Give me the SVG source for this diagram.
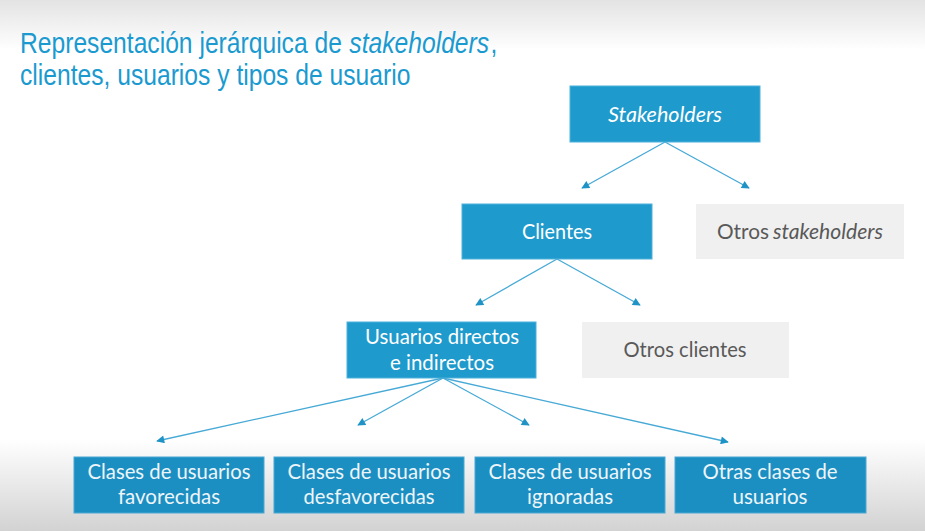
<svg xmlns="http://www.w3.org/2000/svg" width="925" height="531" viewBox="0 0 925 531">
<defs>
<linearGradient id="topg" x1="0" y1="0" x2="0" y2="1">
<stop offset="0" stop-color="#e3e3e3"/>
<stop offset="1" stop-color="#ffffff"/>
</linearGradient>
<linearGradient id="botg" x1="0" y1="0" x2="0" y2="1">
<stop offset="0" stop-color="#ffffff"/>
<stop offset="1" stop-color="#d2d2d2"/>
</linearGradient>
<marker id="ah" viewBox="0 0 10 10" refX="9" refY="5" markerWidth="9" markerHeight="8" markerUnits="userSpaceOnUse" orient="auto">
<path d="M0,0 L10,5 L0,10 z" fill="#1f93c6"/>
</marker>
<style>
.blue{fill:#1e9acc;stroke:#4fb1dc;stroke-width:1}
.blueb{fill:#1b8fc2;stroke:#4aa8d3;stroke-width:1}
.gray{fill:#f0f0f0}
.t{font-family:Lato,"Open Sans",sans-serif;font-size:21px;text-anchor:middle}
.w{fill:#ffffff}
.wb{fill:#eef5f9}
.g{fill:#595959}
.title{font-family:"Liberation Sans",Arial,sans-serif;font-size:29px;fill:#1b9ad0}
.con{stroke:#46a9d6;stroke-width:1.3;fill:none;marker-end:url(#ah)}
</style>
</defs>
<rect width="925" height="531" fill="#ffffff"/>
<rect width="925" height="50" fill="url(#topg)"/>
<rect y="440" width="925" height="91" fill="url(#botg)"/>

<g id="title" transform="scale(0.85,1)">
<text class="title" x="23.5" y="53">Representación jerárquica de</text>
<text class="title" x="411" y="53" font-style="italic">stakeholders</text>
<text class="title" x="577" y="53">,</text>
<text class="title" x="23.5" y="85">clientes, usuarios y tipos de usuario</text>
</g>

<g id="connectors">
<line class="con" x1="665" y1="142" x2="582" y2="188"/>
<line class="con" x1="665" y1="142" x2="749" y2="188"/>
<line class="con" x1="557" y1="259" x2="476" y2="305"/>
<line class="con" x1="557" y1="259" x2="640" y2="305"/>
<line class="con" x1="443" y1="378" x2="157" y2="441"/>
<line class="con" x1="443" y1="378" x2="358" y2="425"/>
<line class="con" x1="443" y1="378" x2="529" y2="425"/>
<line class="con" x1="443" y1="378" x2="728" y2="442"/>
</g>

<g id="stakeholders">
<rect class="blue" x="570" y="86" width="190" height="56"/>
<text class="t w" x="665" y="122" font-style="italic" textLength="114" lengthAdjust="spacingAndGlyphs">Stakeholders</text>
</g>

<g id="clientes">
<rect class="blue" x="462" y="204" width="190" height="55"/>
<text class="t w" x="557" y="239" textLength="70" lengthAdjust="spacingAndGlyphs">Clientes</text>
</g>

<g id="otros-stakeholders">
<rect class="gray" x="696" y="204" width="208" height="55"/>
<text class="t g" x="717" y="239" style="text-anchor:start" textLength="52" lengthAdjust="spacingAndGlyphs">Otros</text>
<text class="t g" x="773" y="239" style="text-anchor:start" font-style="italic" textLength="110" lengthAdjust="spacingAndGlyphs">stakeholders</text>
</g>

<g id="usuarios">
<rect class="blue" x="347" y="322" width="189" height="56"/>
<text class="t w" x="442" y="344" textLength="154" lengthAdjust="spacingAndGlyphs">Usuarios directos</text>
<text class="t w" x="442" y="370" textLength="104" lengthAdjust="spacingAndGlyphs">e indirectos</text>
</g>

<g id="otros-clientes">
<rect class="gray" x="582" y="322" width="207" height="56"/>
<text class="t g" x="685" y="357" textLength="123" lengthAdjust="spacingAndGlyphs">Otros clientes</text>
</g>

<g id="favorecidas">
<rect class="blueb" x="74" y="457" width="190" height="56"/>
<text class="t wb" x="169" y="479" textLength="163" lengthAdjust="spacingAndGlyphs">Clases de usuarios</text>
<text class="t wb" x="169" y="504" textLength="102" lengthAdjust="spacingAndGlyphs">favorecidas</text>
</g>

<g id="desfavorecidas">
<rect class="blueb" x="274" y="457" width="190" height="56"/>
<text class="t wb" x="369" y="479" textLength="163" lengthAdjust="spacingAndGlyphs">Clases de usuarios</text>
<text class="t wb" x="369" y="504" textLength="131" lengthAdjust="spacingAndGlyphs">desfavorecidas</text>
</g>

<g id="ignoradas">
<rect class="blueb" x="475" y="457" width="190" height="56"/>
<text class="t wb" x="570" y="479" textLength="163" lengthAdjust="spacingAndGlyphs">Clases de usuarios</text>
<text class="t wb" x="570" y="504" textLength="86" lengthAdjust="spacingAndGlyphs">ignoradas</text>
</g>

<g id="otras-clases">
<rect class="blueb" x="675" y="457" width="191" height="56"/>
<text class="t wb" x="770" y="479" textLength="135" lengthAdjust="spacingAndGlyphs">Otras clases de</text>
<text class="t wb" x="770" y="504" textLength="75" lengthAdjust="spacingAndGlyphs">usuarios</text>
</g>
</svg>
